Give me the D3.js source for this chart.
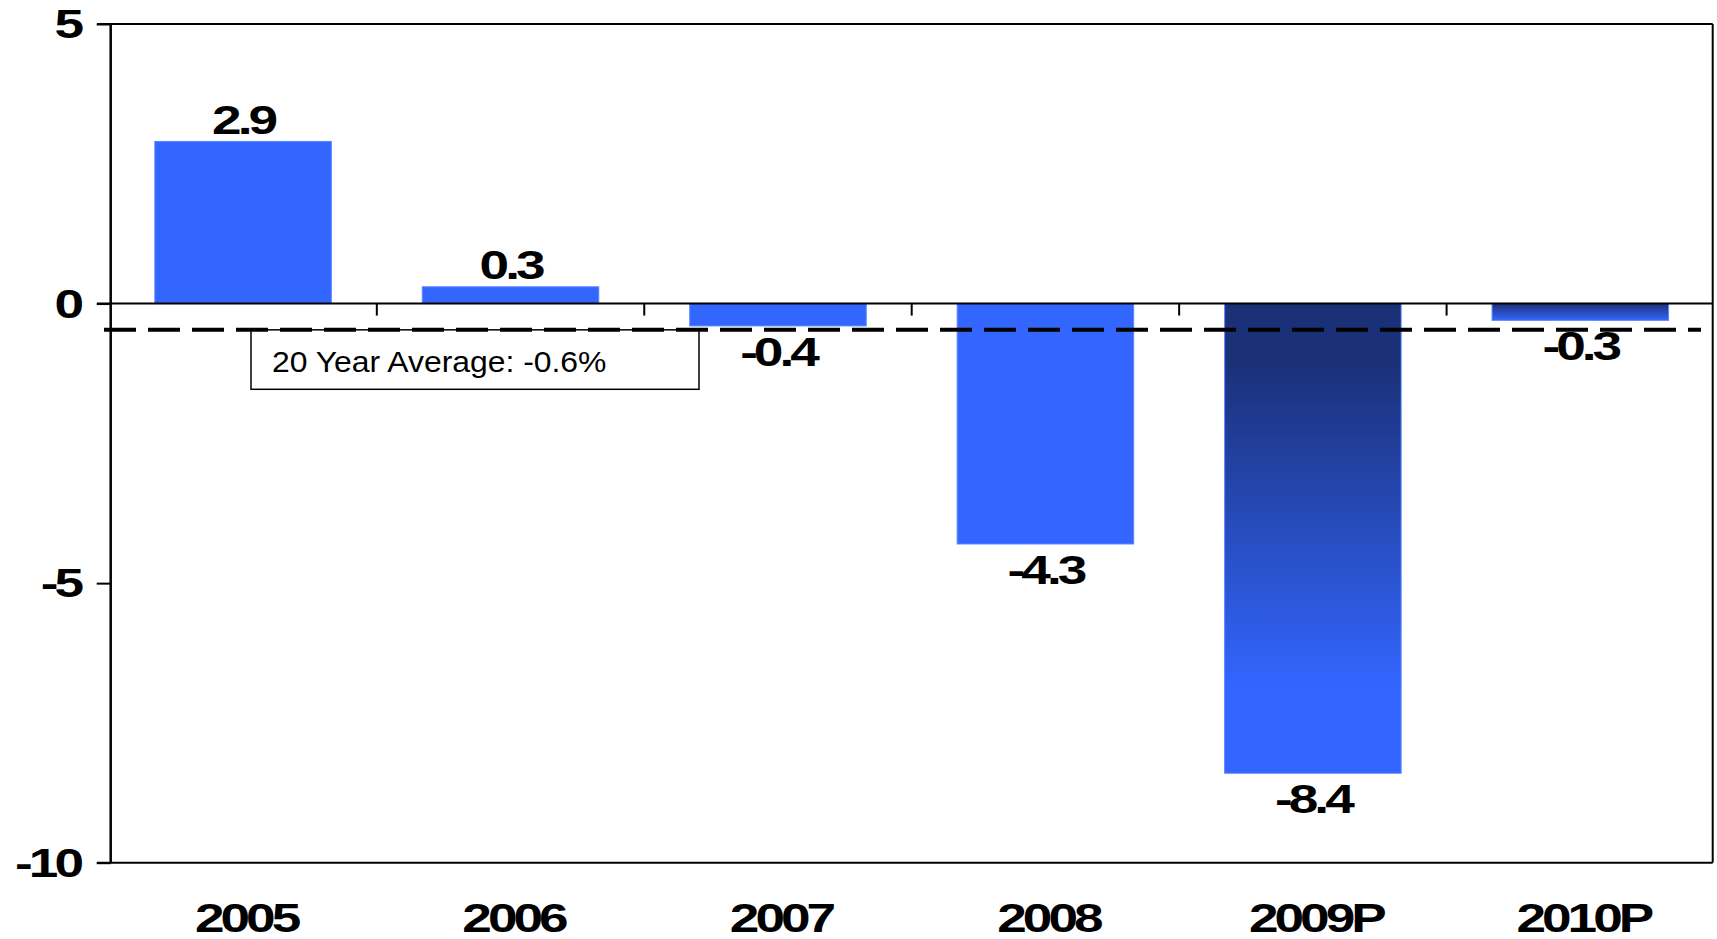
<!DOCTYPE html>
<html>
<head>
<meta charset="utf-8">
<script src="https://cdn.jsdelivr.net/npm/d3@7/dist/d3.min.js"></script>
<style>
  html, body { margin: 0; padding: 0; background: #fff; }
  svg { display: block; }
</style>
</head>
<body>
<script>
// ---- data ----
const categories = ["2005", "2006", "2007", "2008", "2009P", "2010P"];
const values = [2.9, 0.3, -0.4, -4.3, -8.4, -0.3];
const valueLabels = ["2.9", "0.3", "-0.4", "-4.3", "-8.4", "-0.3"];
const yTicks = [5, 0, -5, -10];
const yTickLabels = ["5", "0", "-5", "-10"];
const gradientCategories = ["2009P", "2010P"];
const averageValue = -0.47;
const averageLabel = "20 Year Average: -0.6%";

// ---- layout ----
const W = 1717, H = 939;
const plotLeft = 110.7, plotRight = 1712.7, plotTop = 24, plotBottom = 862.7;
const barColor = "#3366ff";
const darkColor = "#1a3077";
const boldScale = 1.33;

const svg = d3.select("body").append("svg").attr("width", W).attr("height", H);

const defs = svg.append("defs");
const g1 = defs.append("linearGradient").attr("id", "grad2009").attr("x1", 0).attr("y1", 0).attr("x2", 0).attr("y2", 1);
g1.append("stop").attr("offset", 0).attr("stop-color", darkColor);
g1.append("stop").attr("offset", 0.12).attr("stop-color", darkColor);
g1.append("stop").attr("offset", 0.82).attr("stop-color", barColor);
g1.append("stop").attr("offset", 1).attr("stop-color", barColor);
const g2 = defs.append("linearGradient").attr("id", "grad2010").attr("x1", 0).attr("y1", 0).attr("x2", 0).attr("y2", 1);
g2.append("stop").attr("offset", 0).attr("stop-color", darkColor);
g2.append("stop").attr("offset", 1).attr("stop-color", barColor);
const gradId = { "2009P": "url(#grad2009)", "2010P": "url(#grad2010)" };

const x = d3.scaleBand().domain(categories).range([plotLeft, plotRight]).paddingInner(0.34).paddingOuter(0.165);
const y = d3.scaleLinear().domain([-10, 5]).range([plotBottom, plotTop]);

const data = categories.map((c, i) => ({ c, v: values[i], label: valueLabels[i] }));

// bars
svg.append("g").selectAll("rect").data(data).join("rect")
  .attr("x", d => x(d.c))
  .attr("width", x.bandwidth())
  .attr("y", d => y(Math.max(0, d.v)))
  .attr("height", d => Math.abs(y(d.v) - y(0)))
  .attr("fill", d => gradientCategories.includes(d.c) ? gradId[d.c] : barColor)
  .attr("stroke", "#5a86ff")
  .attr("stroke-width", 1);

// frame (top & right)
svg.append("line").attr("x1", 97).attr("x2", plotRight).attr("y1", y(5)).attr("y2", y(5)).attr("stroke", "#000").attr("stroke-width", 2);
svg.append("line").attr("x1", plotRight).attr("x2", plotRight).attr("y1", y(5)).attr("y2", y(-10)).attr("stroke", "#000").attr("stroke-width", 2);

// y axis
const yAxis = d3.axisLeft(y).tickValues(yTicks).tickSize(14).tickFormat("");
const ya = svg.append("g").attr("transform", `translate(${plotLeft},0)`).call(yAxis);
ya.select(".domain").attr("stroke", "#000").attr("stroke-width", 2.5).attr("d", `M0,${y(5)}V${y(-10)}`);
ya.selectAll(".tick line").attr("stroke", "#000").attr("stroke-width", 2);

// bottom frame line
svg.append("line").attr("x1", 97).attr("x2", plotRight).attr("y1", y(-10)).attr("y2", y(-10)).attr("stroke", "#000").attr("stroke-width", 2);

// zero line
svg.append("line").attr("x1", 97).attr("x2", plotRight).attr("y1", y(0)).attr("y2", y(0)).attr("stroke", "#000").attr("stroke-width", 2);

// category boundary ticks on the zero line
const boundaries = categories.slice(1).map(c => x(c) - x.step() * x.paddingInner() / 2);
svg.append("g").selectAll("line").data(boundaries).join("line")
  .attr("x1", d => d).attr("x2", d => d)
  .attr("y1", y(0)).attr("y2", y(0) + 12)
  .attr("stroke", "#000").attr("stroke-width", 2);

// y tick labels
svg.append("g").selectAll("text").data(yTicks).join("text")
  .attr("transform", d => `translate(80,${y(d) + 14.3}) scale(${boldScale},1)`)
  .attr("text-anchor", "end")
  .attr("font-family", "Liberation Sans, Arial, sans-serif")
  .attr("font-weight", "bold")
  .attr("font-size", 40)
  .attr("letter-spacing", -3)
  .text((d, i) => yTickLabels[i]);

// average label box (drawn under the dashed line)
const boxTop = y(averageValue);
svg.append("rect").attr("x", 251).attr("y", boxTop).attr("width", 448).attr("height", 389.3 - boxTop)
  .attr("fill", "#fff").attr("stroke", "#000").attr("stroke-width", 1.5);
svg.append("text")
  .attr("transform", `translate(272,371.5) scale(1.1,1)`)
  .attr("font-family", "Liberation Sans, Arial, sans-serif")
  .attr("font-size", 29)
  .attr("fill", "#000")
  .text(averageLabel);

// dashed average line
svg.append("line").attr("x1", 104).attr("x2", 1701)
  .attr("y1", y(averageValue)).attr("y2", y(averageValue))
  .attr("stroke", "#000").attr("stroke-width", 4)
  .attr("stroke-dasharray", "32,12");

// value labels
svg.append("g").selectAll("text").data(data).join("text")
  .attr("transform", d => {
    const cx = x(d.c) + x.bandwidth() / 2;
    const ty = d.v >= 0 ? y(d.v) - 7.5 : y(d.v) + 40;
    return `translate(${cx},${ty}) scale(${boldScale},1)`;
  })
  .attr("text-anchor", "middle")
  .attr("font-family", "Liberation Sans, Arial, sans-serif")
  .attr("font-weight", "bold")
  .attr("font-size", 40)
  .attr("letter-spacing", -3)
  .text(d => d.label);

// category labels
svg.append("g").selectAll("text").data(categories).join("text")
  .attr("transform", d => `translate(${x(d) + x.bandwidth() / 2 + 3},932) scale(${boldScale},1)`)
  .attr("text-anchor", "middle")
  .attr("font-family", "Liberation Sans, Arial, sans-serif")
  .attr("font-weight", "bold")
  .attr("font-size", 40)
  .attr("letter-spacing", -3)
  .text(d => d);
</script>
</body>
</html>
